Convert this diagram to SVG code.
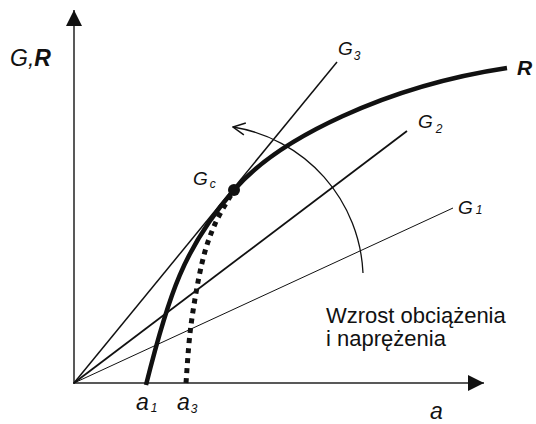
<svg xmlns="http://www.w3.org/2000/svg" width="536" height="424" viewBox="0 0 536 424">
<style>
text{font-family:"Liberation Sans",Arial,sans-serif;fill:#111}
.it{font-style:italic}
.b{font-weight:bold}
.ax{stroke:#222;stroke-width:1.5;fill:none}
.g{stroke:#111;fill:none}
</style>
<defs>
<marker id="tri" viewBox="0 0 16 16" refX="16" refY="8" markerWidth="16" markerHeight="16" markerUnits="userSpaceOnUse" orient="auto"><path d="M0,0L16,8L0,16Z" fill="#111"/></marker>
<marker id="open" viewBox="0 0 14 14" refX="13" refY="7" markerWidth="14" markerHeight="14" markerUnits="userSpaceOnUse" orient="auto"><path d="M1,1L13,7L1,13" fill="none" stroke="#111" stroke-width="1.5"/></marker>
</defs>
<g id="connectors">
<path class="ax" d="M74,384V10" marker-end="url(#tri)"/>
<path class="ax" d="M73,383H484" marker-end="url(#tri)"/>
<path class="g" stroke-width="1" d="M74,383L453,208"/>
<path class="g" stroke-width="1.8" d="M74,383L407,131"/>
<path class="g" stroke-width="1.5" d="M74,383L337,62"/>
<path class="g" stroke-width="1.3" d="M363,273A155,155 0 0 0 233,127" marker-end="url(#open)"/>
<path class="g" stroke-width="4.5" d="M146,385C168.5,295 184,247.5 234,190C279,138 387,86 507,68"/>
<path class="g" stroke-width="5" stroke-dasharray="5 5" d="M186,383C186.8,373.3 188.3,345 191,325C193.7,305 198,279.8 202,263C206,246.2 209.7,236.2 215,224C220.3,211.8 230.8,195.7 234,190"/>
</g>
<g id="axis-labels">
<text x="10" y="66" font-size="23"><tspan class="it">G,</tspan><tspan class="it b">R</tspan></text>
<text x="430" y="419" font-size="23" class="it">a</text>
</g>
<g id="R"><text x="517" y="75" font-size="21" class="it b">R</text></g>
<g id="G3"><text x="338" y="55" font-size="19" class="it">G<tspan font-size="12" dx="1" dy="5">3</tspan></text></g>
<g id="G2"><text x="418" y="128" font-size="19" class="it">G<tspan font-size="12" dx="3" dy="5">2</tspan></text></g>
<g id="G1"><text x="458" y="214" font-size="19" class="it">G<tspan font-size="12" dx="3" dy="0">1</tspan></text></g>
<g id="Gc"><circle cx="234" cy="190" r="6" fill="#111"/><text x="193" y="185" font-size="19" class="it">G<tspan font-size="12" dx="2" dy="3">c</tspan></text></g>
<g id="a1"><text x="136" y="410" font-size="23" class="it">a<tspan font-size="12" dx="2" dy="2">1</tspan></text></g>
<g id="a3"><text x="177" y="410" font-size="23" class="it">a<tspan font-size="12" dx="1" dy="3">3</tspan></text></g>
<g id="label"><text font-size="22"><tspan x="326" y="323">Wzrost obciążenia</tspan><tspan x="326" y="346">i naprężenia</tspan></text></g>
</svg>
